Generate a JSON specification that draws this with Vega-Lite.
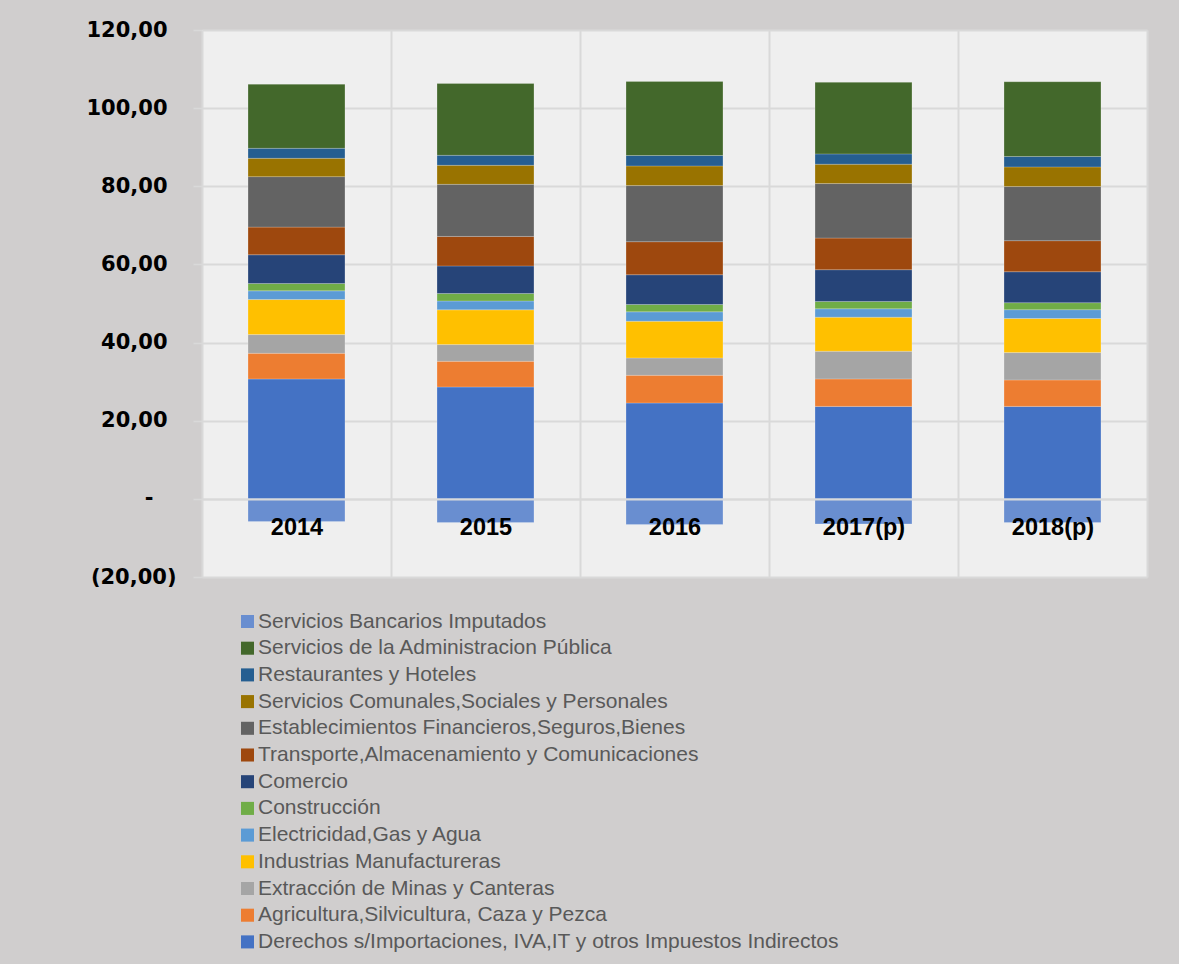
{
  "$schema": "https://vega.github.io/schema/vega-lite/v6.json",
  "width": 945,
  "height": 547,
  "autosize": {"type": "none"},
  "padding": {"left": 202, "top": 30, "right": 32, "bottom": 387},
  "background": "#D0CECE",
  "config": {"view": {"fill": "#EFEFEF", "stroke": null}, "font": "Liberation Sans"},
  "data": {"values": [
    {"year": "2014", "sector": "Derechos s/Importaciones, IVA,IT y otros Impuestos Indirectos", "value": 30.69},
    {"year": "2014", "sector": "Agricultura,Silvicultura, Caza y Pezca", "value": 6.56},
    {"year": "2014", "sector": "Extracción de Minas y Canteras", "value": 4.79},
    {"year": "2014", "sector": "Industrias Manufactureras", "value": 8.97},
    {"year": "2014", "sector": "Electricidad,Gas y Agua", "value": 2.23},
    {"year": "2014", "sector": "Construcción", "value": 1.87},
    {"year": "2014", "sector": "Comercio", "value": 7.36},
    {"year": "2014", "sector": "Transporte,Almacenamiento y Comunicaciones", "value": 7.08},
    {"year": "2014", "sector": "Establecimientos Financieros,Seguros,Bienes", "value": 12.92},
    {"year": "2014", "sector": "Servicios Comunales,Sociales y Personales", "value": 4.69},
    {"year": "2014", "sector": "Restaurantes y Hoteles", "value": 2.56},
    {"year": "2014", "sector": "Servicios de la Administracion Pública", "value": 16.41},
    {"year": "2014", "sector": "Servicios Bancarios Imputados", "value": -5.82},
    {"year": "2015", "sector": "Derechos s/Importaciones, IVA,IT y otros Impuestos Indirectos", "value": 28.64},
    {"year": "2015", "sector": "Agricultura,Silvicultura, Caza y Pezca", "value": 6.56},
    {"year": "2015", "sector": "Extracción de Minas y Canteras", "value": 4.28},
    {"year": "2015", "sector": "Industrias Manufactureras", "value": 8.90},
    {"year": "2015", "sector": "Electricidad,Gas y Agua", "value": 2.26},
    {"year": "2015", "sector": "Construcción", "value": 1.92},
    {"year": "2015", "sector": "Comercio", "value": 7.05},
    {"year": "2015", "sector": "Transporte,Almacenamiento y Comunicaciones", "value": 7.56},
    {"year": "2015", "sector": "Establecimientos Financieros,Seguros,Bienes", "value": 13.33},
    {"year": "2015", "sector": "Servicios Comunales,Sociales y Personales", "value": 4.87},
    {"year": "2015", "sector": "Restaurantes y Hoteles", "value": 2.56},
    {"year": "2015", "sector": "Servicios de la Administracion Pública", "value": 18.38},
    {"year": "2015", "sector": "Servicios Bancarios Imputados", "value": -6.08},
    {"year": "2016", "sector": "Derechos s/Importaciones, IVA,IT y otros Impuestos Indirectos", "value": 24.54},
    {"year": "2016", "sector": "Agricultura,Silvicultura, Caza y Pezca", "value": 7.08},
    {"year": "2016", "sector": "Extracción de Minas y Canteras", "value": 4.46},
    {"year": "2016", "sector": "Industrias Manufactureras", "value": 9.38},
    {"year": "2016", "sector": "Electricidad,Gas y Agua", "value": 2.41},
    {"year": "2016", "sector": "Construcción", "value": 1.87},
    {"year": "2016", "sector": "Comercio", "value": 7.62},
    {"year": "2016", "sector": "Transporte,Almacenamiento y Comunicaciones", "value": 8.46},
    {"year": "2016", "sector": "Establecimientos Financieros,Seguros,Bienes", "value": 14.36},
    {"year": "2016", "sector": "Servicios Comunales,Sociales y Personales", "value": 5.03},
    {"year": "2016", "sector": "Restaurantes y Hoteles", "value": 2.67},
    {"year": "2016", "sector": "Servicios de la Administracion Pública", "value": 18.97},
    {"year": "2016", "sector": "Servicios Bancarios Imputados", "value": -6.59},
    {"year": "2017(p)", "sector": "Derechos s/Importaciones, IVA,IT y otros Impuestos Indirectos", "value": 23.67},
    {"year": "2017(p)", "sector": "Agricultura,Silvicultura, Caza y Pezca", "value": 7.03},
    {"year": "2017(p)", "sector": "Extracción de Minas y Canteras", "value": 7.08},
    {"year": "2017(p)", "sector": "Industrias Manufactureras", "value": 8.72},
    {"year": "2017(p)", "sector": "Electricidad,Gas y Agua", "value": 2.15},
    {"year": "2017(p)", "sector": "Construcción", "value": 1.87},
    {"year": "2017(p)", "sector": "Comercio", "value": 8.13},
    {"year": "2017(p)", "sector": "Transporte,Almacenamiento y Comunicaciones", "value": 8.10},
    {"year": "2017(p)", "sector": "Establecimientos Financieros,Seguros,Bienes", "value": 13.95},
    {"year": "2017(p)", "sector": "Servicios Comunales,Sociales y Personales", "value": 4.95},
    {"year": "2017(p)", "sector": "Restaurantes y Hoteles", "value": 2.64},
    {"year": "2017(p)", "sector": "Servicios de la Administracion Pública", "value": 18.31},
    {"year": "2017(p)", "sector": "Servicios Bancarios Imputados", "value": -6.41},
    {"year": "2018(p)", "sector": "Derechos s/Importaciones, IVA,IT y otros Impuestos Indirectos", "value": 23.67},
    {"year": "2018(p)", "sector": "Agricultura,Silvicultura, Caza y Pezca", "value": 6.77},
    {"year": "2018(p)", "sector": "Extracción de Minas y Canteras", "value": 7.00},
    {"year": "2018(p)", "sector": "Industrias Manufactureras", "value": 8.72},
    {"year": "2018(p)", "sector": "Electricidad,Gas y Agua", "value": 2.26},
    {"year": "2018(p)", "sector": "Construcción", "value": 1.79},
    {"year": "2018(p)", "sector": "Comercio", "value": 7.92},
    {"year": "2018(p)", "sector": "Transporte,Almacenamiento y Comunicaciones", "value": 7.95},
    {"year": "2018(p)", "sector": "Establecimientos Financieros,Seguros,Bienes", "value": 13.85},
    {"year": "2018(p)", "sector": "Servicios Comunales,Sociales y Personales", "value": 5.03},
    {"year": "2018(p)", "sector": "Restaurantes y Hoteles", "value": 2.67},
    {"year": "2018(p)", "sector": "Servicios de la Administracion Pública", "value": 19.13},
    {"year": "2018(p)", "sector": "Servicios Bancarios Imputados", "value": -6.08}
  ]},
  "transform": [
    {"calculate": "indexof(['Derechos s/Importaciones, IVA,IT y otros Impuestos Indirectos','Agricultura,Silvicultura, Caza y Pezca','Extracción de Minas y Canteras','Industrias Manufactureras','Electricidad,Gas y Agua','Construcción','Comercio','Transporte,Almacenamiento y Comunicaciones','Establecimientos Financieros,Seguros,Bienes','Servicios Comunales,Sociales y Personales','Restaurantes y Hoteles','Servicios de la Administracion Pública','Servicios Bancarios Imputados'], datum.sector)", "as": "stackOrder"}
  ],
  "mark": {"type": "bar", "width": {"band": 0.513}, "stroke": "#ffffff", "strokeWidth": 0.6, "strokeOpacity": 0.35},
  "encoding": {
    "x": {
      "field": "year", "type": "nominal", "sort": null,
      "scale": {"paddingInner": 0, "paddingOuter": 0},
      "axis": {
        "title": null, "orient": "bottom", "offset": -78, "tickBand": "extent",
        "grid": true, "gridColor": "#D9D9D9", "gridWidth": 2,
        "ticks": false, "tickSize": 0,
        "domain": true, "domainColor": "#D9D9D9", "domainWidth": 2,
        "labelAngle": 0, "labelFont": "Liberation Sans", "labelFontWeight": "bold",
        "labelFontSize": 23.5, "labelColor": "#000000", "labelPadding": 16,
        "labelBaseline": "top", "zindex": 1
      }
    },
    "y": {
      "field": "value", "type": "quantitative", "stack": "zero",
      "scale": {"domain": [-20, 120], "nice": false},
      "axis": {
        "title": null, "values": [-20, 0, 20, 40, 60, 80, 100, 120],
        "labelExpr": "datum.value == 0 ? '-' : (datum.value < 0 ? '(' + replace(format(-datum.value, '.2f'), '.', ',') + ')' : replace(format(datum.value, '.2f'), '.', ','))",
        "labelFont": "DejaVu Sans", "labelFontWeight": "bold", "labelFontSize": 21,
        "labelColor": "#000000",
        "labelPadding": {"condition": [{"test": "datum.value < 0", "value": 17}, {"test": "datum.value == 0", "value": 40}], "value": 26},
        "gridColor": "#D9D9D9", "gridWidth": 2,
        "domain": false, "ticks": true, "tickColor": "#D9D9D9", "tickSize": 9, "tickWidth": 1.5
      }
    },
    "color": {
      "field": "sector", "type": "nominal",
      "scale": {
        "domain": ["Servicios Bancarios Imputados", "Servicios de la Administracion Pública", "Restaurantes y Hoteles", "Servicios Comunales,Sociales y Personales", "Establecimientos Financieros,Seguros,Bienes", "Transporte,Almacenamiento y Comunicaciones", "Comercio", "Construcción", "Electricidad,Gas y Agua", "Industrias Manufactureras", "Extracción de Minas y Canteras", "Agricultura,Silvicultura, Caza y Pezca", "Derechos s/Importaciones, IVA,IT y otros Impuestos Indirectos"],
        "range": ["#698ED0", "#43682B", "#255E91", "#997300", "#636363", "#9E480E", "#264478", "#70AD47", "#5B9BD5", "#FFC000", "#A5A5A5", "#ED7D31", "#4472C4"]
      },
      "legend": {
        "title": null, "orient": "none", "legendX": 35, "legendY": 581,
        "symbolType": "square", "symbolSize": 170, "symbolStrokeWidth": 0,
        "labelFont": "Liberation Sans", "labelFontSize": 21, "labelColor": "#595959",
        "rowPadding": 4.7, "labelOffset": 0, "padding": 0, "labelLimit": 0
      }
    },
    "order": {"field": "stackOrder", "type": "quantitative"}
  }
}
